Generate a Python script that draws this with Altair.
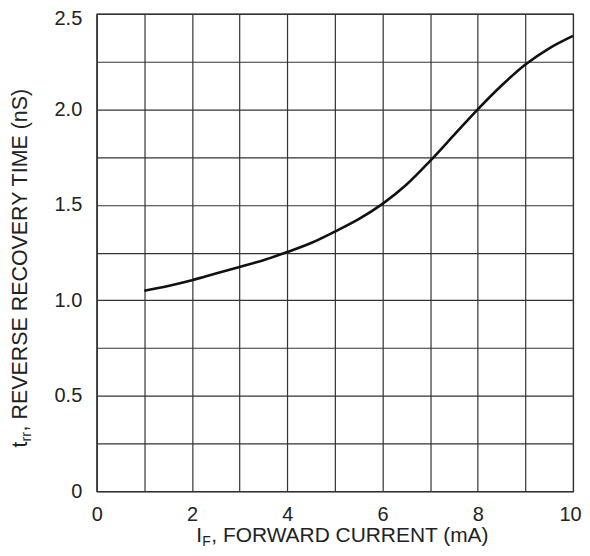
import altair as alt
import pandas as pd

# Curve
forward_current_mA = [1, 1.5, 2, 2.5, 3, 3.5, 4, 4.5, 5, 5.5, 6, 6.5, 7, 7.5, 8, 8.5, 9, 9.5, 10]
trr_ns = [1.05, 1.075, 1.105, 1.14, 1.175, 1.21, 1.253, 1.30, 1.36, 1.425, 1.505, 1.605,
          1.73, 1.865, 2.0, 2.125, 2.235, 2.32, 2.385]

x_grid = [0, 1, 2, 3, 4, 5, 6, 7, 8, 9, 10]
y_grid = [0, 0.25, 0.5, 0.75, 1.0, 1.25, 1.5, 1.75, 2.0, 2.25, 2.5]

FONT = "Liberation Sans"
GRID = "#333333"

df = pd.DataFrame({"x": forward_current_mA, "y": trr_ns})

W, H = 478, 479

line = alt.Chart(df).mark_line(
    color="#111111", strokeWidth=2.6, interpolate="monotone"
).encode(
    x=alt.X("x:Q", scale=alt.Scale(domain=[0, 10], nice=False),
            axis=alt.Axis(values=x_grid, title=None, grid=True, gridColor=GRID,
                          gridOpacity=1, gridWidth=1.2, domainColor=GRID, domainWidth=1.2,
                          ticks=False, labelPadding=13, labelFontSize=20, labelFont=FONT,
                          labelColor="#222222", labelFlush=False,
                          labelOffset={"condition": {"test": "datum.value == 10", "value": -3}, "value": 0},
                          labelExpr="datum.value % 2 == 0 ? datum.label : ''")),
    y=alt.Y("y:Q", scale=alt.Scale(domain=[0, 2.5], nice=False),
            axis=alt.Axis(values=y_grid, title=None, grid=True, gridColor=GRID,
                          gridOpacity=1, gridWidth=1.2, domainColor=GRID, domainWidth=1.2,
                          ticks=False, labelPadding=15, labelFontSize=20, labelFont=FONT,
                          labelColor="#222222", labelFlush=False,
                          labelOffset={"condition": {"test": "datum.value == 2.5", "value": 5}, "value": 0},
                          labelExpr="datum.value == 0 ? '0' : ((datum.value * 2) % 1 == 0 ? format(datum.value, '.1f') : '')")),
)

tdata = alt.Data(values=[{"k": 1}])

def txt(text, x, y, size, angle=0):
    return alt.Chart(tdata).mark_text(
        text=text, font=FONT, fontSize=size, align="left", baseline="alphabetic",
        angle=angle, color="#222222"
    ).encode(x=alt.value(x), y=alt.value(y))

# X axis title: I_F, FORWARD CURRENT (mA)
xt_main_y = 530
xt = (txt("I", 100, xt_main_y, 21)
      + txt("F", 106, xt_main_y + 4, 14)
      + txt(", FORWARD CURRENT (mA)", 115, xt_main_y, 21))

# Y axis title: t_rr, REVERSE RECOVERY TIME (nS)
yt_x = -70
yt = (txt("t", yt_x, 435, 21.5, 270)
      + txt("rr", yt_x + 4, 429, 14, 270)
      + txt(", REVERSE RECOVERY TIME (nS)", yt_x, 419, 21.5, 270))

chart = alt.layer(line, xt, yt).properties(
    width=W, height=H,
    autosize=alt.AutoSizeParams(type="none"),
    padding={"left": 89, "top": 5, "right": 9, "bottom": 56},
).configure_view(stroke=GRID, strokeWidth=1.2)

chart.save("out.html", embed_options={"renderer": "svg", "actions": False})
